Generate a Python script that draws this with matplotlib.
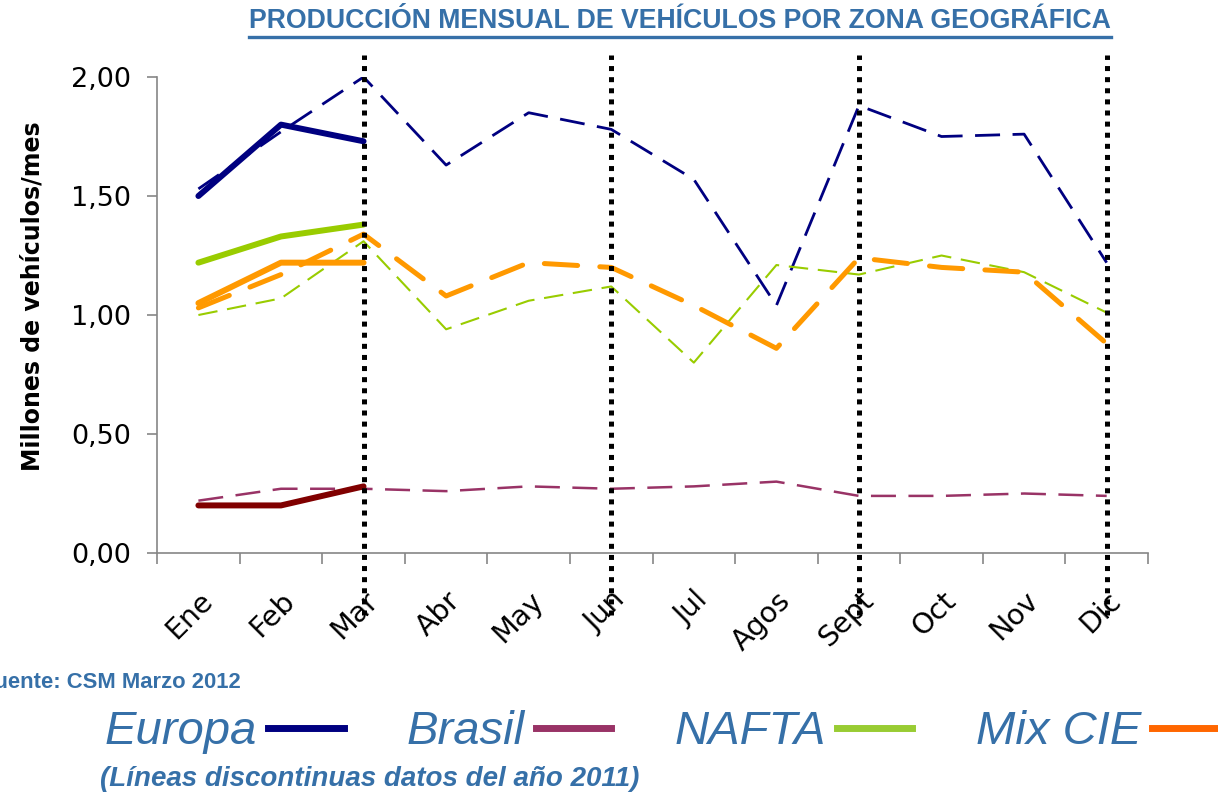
import matplotlib
matplotlib.use("Agg")
import matplotlib.pyplot as plt
from matplotlib.lines import Line2D

plt.rcParams['lines.scale_dashes'] = False

# datos
meses = ["Ene", "Feb", "Mar", "Abr", "May", "Jun", "Jul", "Agos", "Sept", "Oct", "Nov", "Dic"]
europa_2011 = [1.53, 1.77, 2.00, 1.63, 1.85, 1.78, 1.57, 1.04, 1.88, 1.75, 1.76, 1.22]
brasil_2011 = [0.22, 0.27, 0.27, 0.26, 0.28, 0.27, 0.28, 0.30, 0.24, 0.24, 0.25, 0.24]
nafta_2011 = [1.00, 1.07, 1.31, 0.94, 1.06, 1.12, 0.80, 1.21, 1.17, 1.25, 1.18, 1.01]
mixcie_2011 = [1.03, 1.17, 1.34, 1.08, 1.22, 1.20, 1.04, 0.86, 1.24, 1.20, 1.18, 0.88]
europa_2012 = [1.50, 1.80, 1.73]
brasil_2012 = [0.20, 0.20, 0.28]
nafta_2012 = [1.22, 1.33, 1.38]
mixcie_2012 = [1.05, 1.22, 1.22]
meses_corte = [2, 5, 8, 11]   # Mar, Jun, Sept, Dic
yticks = [0, 0.5, 1.0, 1.5, 2.0]

azul_txt = '#3670A8'

fig = plt.figure(figsize=(12.18, 7.94), dpi=100)
ax = fig.add_axes([0.129, 0.3035, 0.8135, 0.5995])

x11 = list(range(12))
x12 = list(range(3))

# 2011 (discontinuas)
ax.plot(x11, europa_2011, color='#000080', lw=2.0, ls=(0, (18, 9)))
ax.plot(x11, brasil_2011, color='#993366', lw=1.8, ls=(0, (18, 9)))
ax.plot(x11, nafta_2011, color='#99CC00', lw=1.5, ls=(0, (14, 7)))
ax.plot(x11, mixcie_2011, color='#FF9900', lw=3.6, ls=(0, (24, 16)),
        dash_capstyle='round')

# 2012 (continuas)
ax.plot(x12, europa_2012, color='#000080', lw=4.3, solid_capstyle='round')
ax.plot(x12, brasil_2012, color='#800000', lw=4.3, solid_capstyle='round')
ax.plot(x12, nafta_2012, color='#99CC00', lw=4.3, solid_capstyle='round')
ax.plot(x12, mixcie_2012, color='#FF9900', lw=4.3, solid_capstyle='round')

for m in meses_corte:
    ax.axvline(m, ymin=-0.13, ymax=1.046, color='black', lw=3.6,
               ls=(0, (3.6, 4.4)), clip_on=False, zorder=5)

ax.set_xlim(-0.5, 11.5)
ax.set_ylim(0, 2.0)
ax.set_yticks(yticks)
ax.set_yticklabels([f"{v:.2f}".replace('.', ',') for v in yticks], fontsize=19.5)
ax.set_xticks(x11)
ax.set_xticklabels(meses, fontsize=20.5, rotation=45,
                   ha='right', va='top', rotation_mode='anchor')
ax.set_xticks([i - 0.5 for i in range(13)], minor=True)
ax.tick_params(axis='x', which='major', length=0, pad=24)
ax.tick_params(axis='x', which='minor', length=8, width=1.2, color='#868686')
ax.tick_params(axis='y', length=7, width=1.2, color='#868686', pad=12)
for s in ['top', 'right']:
    ax.spines[s].set_visible(False)
for s in ['left', 'bottom']:
    ax.spines[s].set_color('#868686')
    ax.spines[s].set_linewidth(1.2)

ax.set_ylabel("Millones de vehículos/mes", fontsize=17, fontweight='bold')
ax.yaxis.set_label_coords(-0.114, 0.54)

# titulo subrayado
titulo = fig.text(0.558, 0.9736, "PRODUCCIÓN MENSUAL DE VEHÍCULOS POR ZONA GEOGRÁFICA",
                  ha='center', va='center', color=azul_txt, fontweight='bold',
                  fontsize=19.2, family=['Liberation Sans', 'DejaVu Sans'])

fig.text(-0.0155, 0.14, "Fuente: CSM Marzo 2012", ha='left', va='center',
         color=azul_txt, fontweight='bold', fontsize=15.8,
         family=['Liberation Sans', 'DejaVu Sans'])

# leyenda
handles = [Line2D([], [], color='#000080', lw=5),
           Line2D([], [], color='#993366', lw=5),
           Line2D([], [], color='#99CC33', lw=5),
           Line2D([], [], color='#FF6600', lw=5)]
leg = fig.legend(handles, ["Europa", "Brasil", "NAFTA", "Mix CIE"], ncol=4,
                 loc='center', bbox_to_anchor=(0.547, 0.078), frameon=False,
                 markerfirst=False, handlelength=1.6, columnspacing=1.34,
                 handletextpad=0.23, borderpad=0.2,
                 prop={'family': 'Liberation Sans', 'style': 'italic', 'size': 34})
for t in leg.get_texts():
    t.set_color(azul_txt)

fig.text(0.082, 0.019, "(Líneas discontinuas datos del año 2011)", ha='left',
         va='center', color=azul_txt, fontweight='bold', style='italic',
         fontsize=20, family=['Liberation Sans', 'DejaVu Sans'])

fig.canvas.draw()
bb = titulo.get_window_extent().transformed(fig.transFigure.inverted())
fig.add_artist(Line2D([bb.x0, bb.x1], [bb.y0 - 0.004, bb.y0 - 0.004],
                      color=azul_txt, lw=2.4, transform=fig.transFigure))

fig.savefig("out.png", dpi=100)
